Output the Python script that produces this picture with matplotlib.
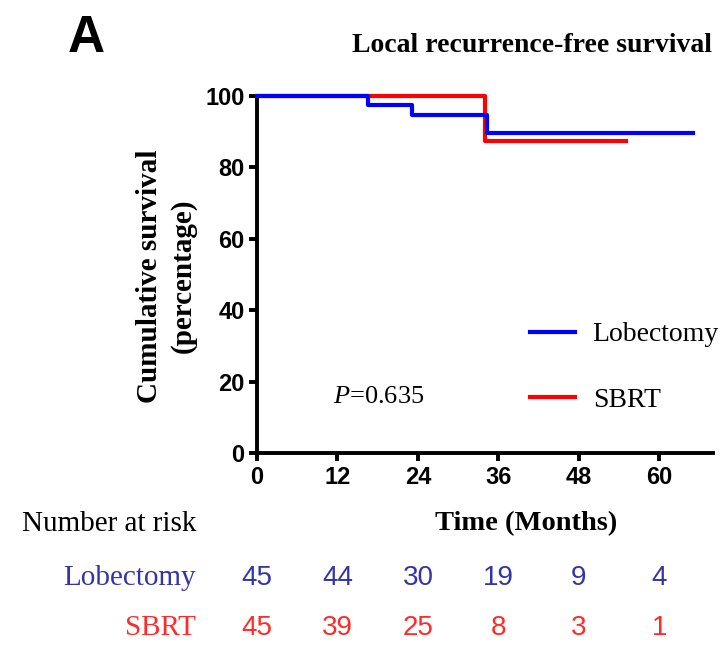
import matplotlib
matplotlib.use("Agg")
import matplotlib.pyplot as plt

plt.rcParams['mathtext.fontset'] = 'custom'
plt.rcParams['mathtext.rm'] = 'Liberation Serif'
plt.rcParams['mathtext.it'] = 'Liberation Serif:italic'

# Kaplan-Meier steps (months, % surviving)
lob_time = [0, 16.5, 23.1, 34.3, 65.0]
lob_surv = [100, 97.6, 94.7, 89.6, 89.6]
sbrt_time = [0, 34.0, 55.0]
sbrt_surv = [100, 87.5, 87.5]

# number at risk table
risk_times = [0, 12, 24, 36, 48, 60]
lob_risk = [45, 44, 30, 19, 9, 4]
sbrt_risk = [45, 39, 25, 8, 3, 1]

p_value = 0.635

blue = '#0000ff'
red = '#ff0000'
blue_txt = '#3434a6'
red_txt = '#ff2a2a'
serif = 'Liberation Serif'
sans = 'Liberation Sans'

W, H = 722, 646
fig = plt.figure(figsize=(W / 100, H / 100), dpi=100)
ax = fig.add_axes([257 / W, 1 - 453 / H, (713 - 257) / W, (453 - 96) / H])

ax.plot(lob_time, lob_surv, drawstyle='steps-post', color=blue, lw=3,
        label='Lobectomy', clip_on=False, zorder=3)
ax.plot(sbrt_time, sbrt_surv, drawstyle='steps-post', color=red, lw=3,
        label='SBRT', clip_on=False, zorder=2)

ax.set_xlim(0, 68)
ax.set_ylim(0, 100)
ax.set_xticks(risk_times)
ax.set_yticks([0, 20, 40, 60, 80, 100])
for side in ['top', 'right']:
    ax.spines[side].set_visible(False)
for side in ['left', 'bottom']:
    ax.spines[side].set_linewidth(2.8)
ax.tick_params(width=2.8, length=6, pad=3)
for lab in ax.get_xticklabels() + ax.get_yticklabels():
    lab.set_fontfamily(sans)
    lab.set_fontweight('bold')
    lab.set_fontsize(17)

ax.text(11.3, 15.7, f'$P$={p_value}', family=serif, fontsize=19, va='center')

leg = ax.legend(loc='upper left', bbox_to_anchor=(0.599, 0.367), frameon=False,
                prop={'family': serif, 'size': 20}, handlelength=1.6,
                handletextpad=0.65, labelspacing=1.45, borderpad=0,
                borderaxespad=0)

fig.text(68 / W, 1 - 52 / H, 'A', family=sans, fontweight='bold', fontsize=37,
         ha='left', va='baseline')
fig.text(712 / W, 1 - 46 / H, 'Local recurrence-free survival', family=serif,
         fontweight='bold', fontsize=20, ha='right', va='center')
fig.text(166 / W, 1 - 276 / H, 'Cumulative survival\n(percentage)', family=serif,
         fontweight='bold', fontsize=21, rotation=90, ha='center', va='center',
         multialignment='center', linespacing=1.3)
fig.text(526 / W, 1 - 524 / H, 'Time (Months)', family=serif, fontweight='bold',
         fontsize=20.5, ha='center', va='center')
fig.text(196 / W, 1 - 524 / H, 'Number at risk', family=serif, fontsize=21,
         ha='right', va='center')
fig.text(196 / W, 1 - 578 / H, 'Lobectomy', family=serif, fontsize=21,
         ha='right', va='center', color=blue_txt)
fig.text(196 / W, 1 - 628 / H, 'SBRT', family=serif, fontsize=21,
         ha='right', va='center', color=red_txt)

trans = ax.get_xaxis_transform()
for t, n in zip(risk_times, lob_risk):
    ax.text(t, (453 - 578) / 357, str(n), transform=trans, ha='center',
            va='center', family=sans, fontsize=20, color=blue_txt, clip_on=False)
for t, n in zip(risk_times, sbrt_risk):
    ax.text(t, (453 - 628) / 357, str(n), transform=trans, ha='center',
            va='center', family=sans, fontsize=20, color=red_txt, clip_on=False)

fig.savefig('out.png', dpi=100)
